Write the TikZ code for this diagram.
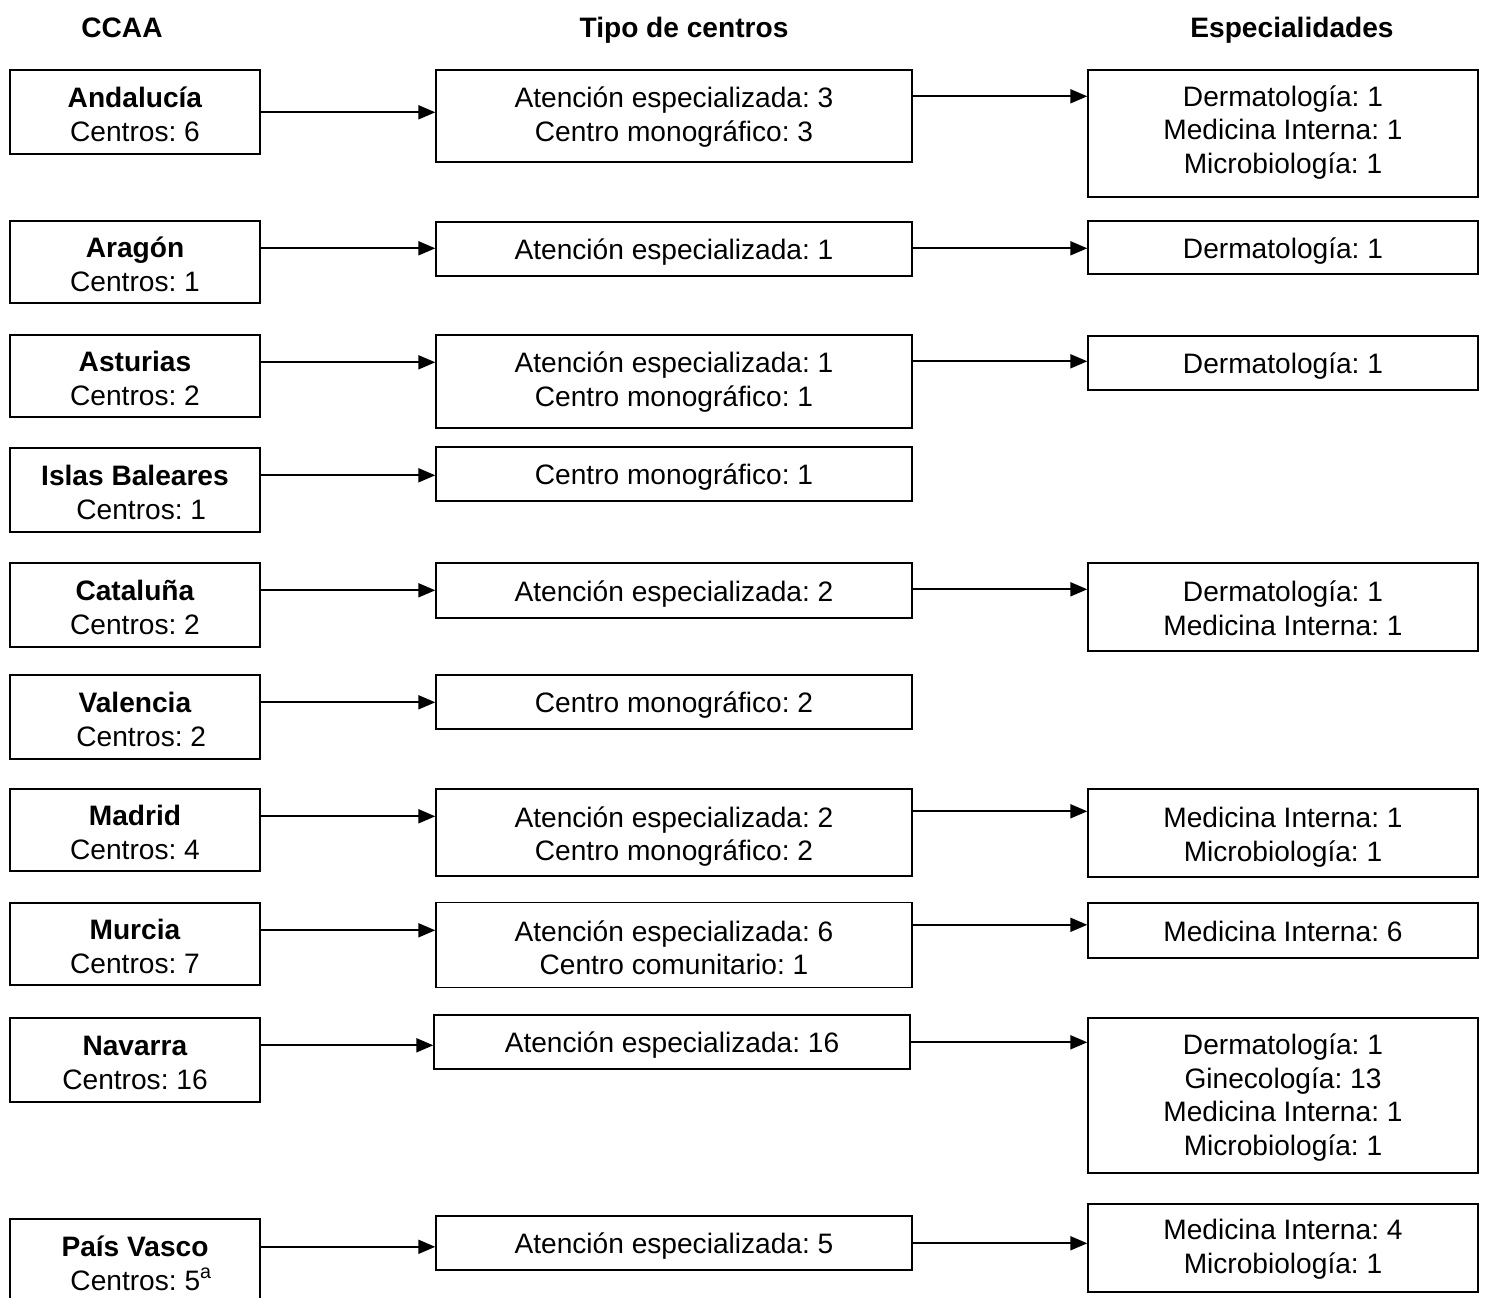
\documentclass[tikz,border=0pt]{standalone}
\usepackage{fontspec}
\setmainfont{Liberation Sans}
\usetikzlibrary{arrows.meta}
\frenchspacing

\tikzset{
  caja/.style={draw, line width=0.8pt, align=center, inner sep=1pt, text depth=0pt},
  ccaa/.style={caja, minimum width=5cm, text height=33pt},
  tipo/.style={caja, minimum width=9.52cm, text height=12.5pt},
  espec/.style={caja, minimum width=7.8cm, text height=12.5pt},
  cabecera/.style={font=\fontsize{16}{19}\selectfont\bfseries, anchor=base},
  flecha/.style={-{Triangle[length=0.34cm,width=0.28cm]}, line width=1.1pt}
}

\begin{document}
\begin{tikzpicture}[font=\fontsize{16}{19}\selectfont]
\useasboundingbox (0,0) rectangle (29.78,-25.94);

\node(H1)[cabecera] at (2.44,-0.74) {CCAA};
\node(H2)[cabecera] at (13.68,-0.74) {Tipo de centros};
\node(H3)[cabecera] at (25.84,-0.74) {Especialidades};

% comunidades
\node(A1)[ccaa,minimum height=1.68cm] at (2.7,-2.24) {\textbf{Andalucía}\\Centros: 6};
\node(A2)[ccaa,minimum height=1.64cm] at (2.7,-5.24) {\textbf{Aragón}\\Centros: 1};
\node(A3)[ccaa,minimum height=1.64cm] at (2.7,-7.52) {\textbf{Asturias}\\Centros: 2};
\node(A4)[ccaa,minimum height=1.68cm] at (2.7,-9.80) {\textbf{Islas Baleares}\\\hspace*{0.25cm}Centros: 1};
\node(A5)[ccaa,minimum height=1.68cm] at (2.7,-12.10) {\textbf{Cataluña}\\Centros: 2};
\node(A6)[ccaa,minimum height=1.68cm] at (2.7,-14.34) {\textbf{Valencia}\\\hspace*{0.25cm}Centros: 2};
\node(A7)[ccaa,minimum height=1.64cm] at (2.7,-16.60) {\textbf{Madrid}\\Centros: 4};
\node(A8)[ccaa,minimum height=1.64cm] at (2.7,-18.88) {\textbf{Murcia}\\Centros: 7};
\node(A9)[ccaa,minimum height=1.68cm] at (2.7,-21.20) {\textbf{Navarra}\\Centros: 16};
\node(A10)[ccaa,minimum height=1.68cm] at (2.7,-25.22) {\textbf{País Vasco}\\\hspace*{0.25cm}Centros: 5\textsuperscript{a}};

% tipo de centros
\node(T1)[tipo,minimum height=1.84cm,text height=28.5pt] at (13.48,-2.32) {Atención especializada: 3\\Centro monográfico: 3};
\node(T2)[tipo,minimum height=1.08cm] at (13.48,-4.98) {Atención especializada: 1};
\node(T3)[tipo,minimum height=1.86cm,text height=28pt] at (13.48,-7.63) {Atención especializada: 1\\Centro monográfico: 1};
\node(T4)[tipo,minimum height=1.08cm] at (13.48,-9.48) {Centro monográfico: 1};
\node(T5)[tipo,minimum height=1.10cm] at (13.48,-11.81) {Atención especializada: 2};
\node(T6)[tipo,minimum height=1.08cm] at (13.48,-14.04) {Centro monográfico: 2};
\node(T7)[tipo,minimum height=1.74cm,text height=32.4pt] at (13.48,-16.65) {Atención especializada: 2\\Centro monográfico: 2};
\node(T8)[tipo,minimum height=1.70cm,text height=34pt] at (13.48,-18.90) {Atención especializada: 6\\Centro comunitario: 1};
\node(T9)[tipo,minimum height=1.08cm] at (13.44,-20.84) {Atención especializada: 16};
\node(T10)[tipo,minimum height=1.08cm] at (13.48,-24.86) {Atención especializada: 5};

% especialidades
\node(E1)[espec,minimum height=2.54cm,text height=45pt] at (25.66,-2.67) {Dermatología: 1\\Medicina Interna: 1\\Microbiología: 1};
\node(E2)[espec,minimum height=1.06cm] at (25.66,-4.95) {Dermatología: 1};
\node(E3)[espec,minimum height=1.08cm] at (25.66,-7.26) {Dermatología: 1};
\node(E5)[espec,minimum height=1.76cm,text height=31.9pt] at (25.66,-12.14) {Dermatología: 1\\Medicina Interna: 1};
\node(E7)[espec,minimum height=1.76cm,text height=31.9pt] at (25.66,-16.66) {Medicina Interna: 1\\Microbiología: 1};
\node(E8)[espec,minimum height=1.10cm] at (25.66,-18.61) {Medicina Interna: 6};
\node(E9)[espec,minimum height=3.10cm,text height=67.7pt] at (25.66,-21.91) {Dermatología: 1\\Ginecología: 13\\Medicina Interna: 1\\Microbiología: 1};
\node(E10)[espec,minimum height=1.76cm,text height=28.5pt] at (25.66,-24.96) {Medicina Interna: 4\\Microbiología: 1};

% flechas ccaa -> tipo
\draw[flecha] ([yshift=-0.86cm]A1.north east) -- ([yshift=-0.86cm]A1.north east -| T1.west);
\draw[flecha] ([yshift=-0.56cm]A2.north east) -- ([yshift=-0.56cm]A2.north east -| T2.west);
\draw[flecha] ([yshift=-0.56cm]A3.north east) -- ([yshift=-0.56cm]A3.north east -| T3.west);
\draw[flecha] ([yshift=-0.56cm]A4.north east) -- ([yshift=-0.56cm]A4.north east -| T4.west);
\draw[flecha] ([yshift=-0.56cm]A5.north east) -- ([yshift=-0.56cm]A5.north east -| T5.west);
\draw[flecha] ([yshift=-0.56cm]A6.north east) -- ([yshift=-0.56cm]A6.north east -| T6.west);
\draw[flecha] ([yshift=-0.56cm]A7.north east) -- ([yshift=-0.56cm]A7.north east -| T7.west);
\draw[flecha] ([yshift=-0.56cm]A8.north east) -- ([yshift=-0.56cm]A8.north east -| T8.west);
\draw[flecha] ([yshift=-0.56cm]A9.north east) -- ([yshift=-0.56cm]A9.north east -| T9.west);
\draw[flecha] ([yshift=-0.57cm]A10.north east) -- ([yshift=-0.57cm]A10.north east -| T10.west);

% flechas tipo -> especialidades
\draw[flecha] ([yshift=-0.54cm]T1.north east) -- ([yshift=-0.54cm]T1.north east -| E1.west);
\draw[flecha] ([yshift=-0.54cm]T2.north east) -- ([yshift=-0.54cm]T2.north east -| E2.west);
\draw[flecha] ([yshift=-0.54cm]T3.north east) -- ([yshift=-0.54cm]T3.north east -| E3.west);
\draw[flecha] ([yshift=-0.54cm]T5.north east) -- ([yshift=-0.54cm]T5.north east -| E5.west);
\draw[flecha] ([yshift=-0.46cm]T7.north east) -- ([yshift=-0.46cm]T7.north east -| E7.west);
\draw[flecha] ([yshift=-0.46cm]T8.north east) -- ([yshift=-0.46cm]T8.north east -| E8.west);
\draw[flecha] ([yshift=-0.56cm]T9.north east) -- ([yshift=-0.56cm]T9.north east -| E9.west);
\draw[flecha] ([yshift=-0.56cm]T10.north east) -- ([yshift=-0.56cm]T10.north east -| E10.west);

\end{tikzpicture}
\end{document}
